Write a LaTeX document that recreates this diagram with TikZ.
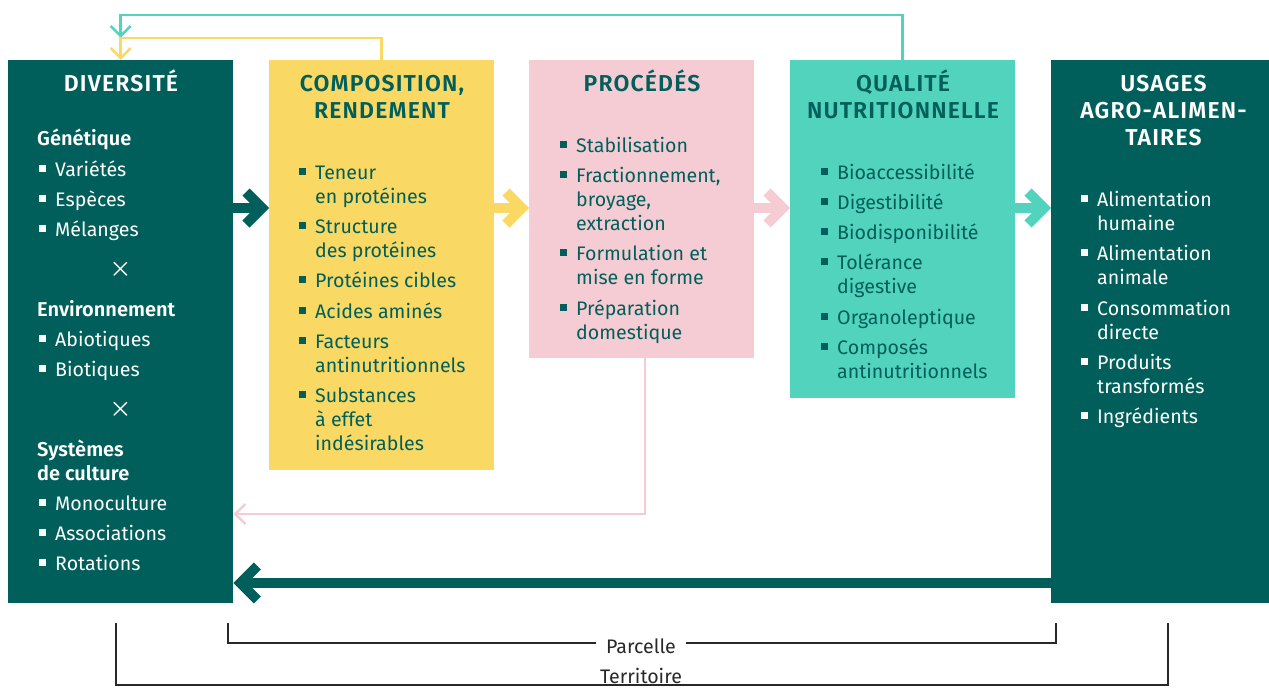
\documentclass[tikz,border=0pt]{standalone}
\usepackage{fontspec}
\setmainfont{Fira Sans}[BoldFont={Fira Sans SemiBold}]
\usetikzlibrary{calc}
\definecolor{dk}{RGB}{0,95,90}
\definecolor{yl}{RGB}{249,216,100}
\definecolor{pk}{RGB}{245,204,211}
\definecolor{tq}{RGB}{82,211,189}
\definecolor{gr}{RGB}{40,40,40}
\tikzset{
 box/.style={anchor=north west, inner sep=0, minimum width=225pt},
 tx/.style={anchor=base west, inner sep=0, font=\fontsize{19.6}{24}\selectfont},
 hd/.style={anchor=base west, inner sep=0, font=\fontsize{20}{24}\selectfont\bfseries},
 ttl/.style={anchor=base, inner sep=0, font=\fontsize{23}{27}\selectfont\bfseries\addfontfeature{LetterSpace=5}},
 times/.style={inner sep=0, font=\fontsize{28}{28}\selectfont\boldmath},
 fat/.style={line width=10pt, line join=miter, miter limit=10},
 thinarr/.style={line width=2.5pt, line join=miter, miter limit=10},
 brk/.style={draw=gr, line width=1.8pt},
 lbl/.style={anchor=base, fill=white, inner xsep=10pt, inner ysep=2pt, text=gr, font=\fontsize{19.6}{24}\selectfont},
}
\newcommand\bl[4]{%
 \fill (#2-16,#3-10.75) rectangle ++(6.5,6.5);
 \node[tx] (#1) at (#2,#3) {#4};}
\newcommand\cl[4]{\node[tx] (#1) at (#2,#3) {#4};}
\newcommand\fatarr[4]{%
 \draw[fat,#4] (#1.east |- 0,#3) -- ($(#2.west |- 0,#3)+(-7,0)$);
 \draw[fat,#4] ($(#2.west |- 0,#3)+(-23,-16)$) -- ($(#2.west |- 0,#3)+(-7,0)$) -- ($(#2.west |- 0,#3)+(-23,16)$);}
\begin{document}
\begin{tikzpicture}[x=1pt,y=-1pt]
\useasboundingbox (0,0) rectangle (1269,689);
% boxes
\node[box, fill=dk, minimum height=543pt] (dv) at (8,60) {};
\node[box, fill=yl, minimum height=410pt] (cp) at (269,60) {};
\node[box, fill=pk, minimum height=298pt] (pr) at (529,60) {};
\node[box, fill=tq, minimum height=338pt] (qn) at (790,60) {};
\node[box, fill=dk, minimum height=543pt, minimum width=218pt] (us) at (1051,60) {};
% fat arrows
\fatarr{dv}{cp}{208}{dk}
\fatarr{cp}{pr}{208}{yl}
\fatarr{pr}{qn}{208}{pk}
\fatarr{qn}{us}{208}{tq}
\draw[fat,dk] (us.west |- 0,583) -- ($(dv.east |- 0,583)+(7,0)$);
\draw[fat,dk] ($(dv.east |- 0,583)+(24,-17)$) -- ($(dv.east |- 0,583)+(7,0)$) -- ($(dv.east |- 0,583)+(24,17)$);
% thin feedback arrows
\draw[thinarr,tq] (qn.north) -- ++(0,-45) -| ($(dv.north)+(0,-25.8)$);
\draw[thinarr,tq] ($(dv.north)+(-10,-34)$) -- ($(dv.north)+(0,-24)$) -- ($(dv.north)+(10,-34)$);
\draw[thinarr,yl] (cp.north) -- ++(0,-22) -| ($(dv.north)+(0,-1.8)$);
\draw[thinarr,yl] ($(dv.north)+(-10,-12)$) -- ($(dv.north)+(0,-1.8)$) -- ($(dv.north)+(10,-12)$);
\draw[thinarr,pk] ($(pr.south)+(3.5,0)$) |- ($(dv.east |- 0,514)+(1.8,0)$);
\draw[thinarr,pk] ($(dv.east |- 0,514)+(12,-10)$) -- ($(dv.east |- 0,514)+(1.8,0)$) -- ($(dv.east |- 0,514)+(12,10)$);
% DIVERSITE
\begin{scope}[color=white]
\node[ttl] (t1) at (121,91.5) {DIVERSITÉ};
\node[hd] (h1) at (37,145) {Génétique};
\bl{a1}{55}{176}{Variétés}
\bl{a2}{55}{206}{Espèces}
\bl{a3}{55}{236}{Mélanges}
\node[times] (x1) at (120.5,269) {$\times$};
\node[hd] (h2) at (37,316) {Environnement};
\bl{a4}{55}{346}{Abiotiques}
\bl{a5}{55}{376}{Biotiques}
\node[times] (x2) at (120.5,409) {$\times$};
\node[hd] (h3) at (37,456) {Systèmes};
\node[hd] (h3b) at (37,480) {de culture};
\bl{a6}{55}{510}{Monoculture}
\bl{a7}{55}{540}{Associations}
\bl{a8}{55}{570}{Rotations}
\end{scope}
% COMPOSITION
\begin{scope}[color=dk]
\node[ttl] (t2) at (382,91.5) {COMPOSITION,};
\node[ttl] (t2b) at (382,118.5) {RENDEMENT};
\bl{b1}{315}{179}{Teneur}
\cl{b1b}{315}{203}{en protéines}
\bl{b2}{315}{233}{Structure}
\cl{b2b}{315}{257}{des protéines}
\bl{b3}{315}{287}{Protéines cibles}
\bl{b4}{315}{318}{Acides aminés}
\bl{b5}{315}{348}{Facteurs}
\cl{b5b}{315}{372}{antinutritionnels}
\bl{b6}{315}{402}{Substances}
\cl{b6b}{315}{426}{à effet}
\cl{b6c}{315}{450}{indésirables}
% PROCEDES
\node[ttl] (t3) at (642,91.5) {PROCÉDÉS};
\bl{c1}{576}{152}{Stabilisation}
\bl{c2}{576}{182}{Fractionnement,}
\cl{c2b}{576}{206}{broyage,}
\cl{c2c}{576}{230}{extraction}
\bl{c3}{576}{260}{Formulation et}
\cl{c3b}{576}{284}{mise en forme}
\bl{c4}{576}{315}{Préparation}
\cl{c4b}{576}{339}{domestique}
% QUALITE
\node[ttl] (t4) at (903,91.5) {QUALITÉ};
\node[ttl] (t4b) at (903,118.5) {NUTRITIONNELLE};
\bl{d1}{837}{179}{Bioaccessibilité}
\bl{d2}{837}{209}{Digestibilité}
\bl{d3}{837}{239}{Biodisponibilité}
\bl{d4}{837}{269}{Tolérance}
\cl{d4b}{837}{293}{digestive}
\bl{d5}{837}{324}{Organoleptique}
\bl{d6}{837}{354}{Composés}
\cl{d6b}{837}{378}{antinutritionnels}
\end{scope}
% USAGES
\begin{scope}[color=white]
\node[ttl] (t5) at (1163.5,91.5) {USAGES};
\node[ttl] (t5b) at (1163.5,118.5) {AGRO-ALIMEN-};
\node[ttl] (t5c) at (1163.5,145.5) {TAIRES};
\bl{e1}{1097}{206}{Alimentation}
\cl{e1b}{1097}{230}{humaine}
\bl{e2}{1097}{260}{Alimentation}
\cl{e2b}{1097}{284}{animale}
\bl{e3}{1097}{315}{Consommation}
\cl{e3b}{1097}{339}{directe}
\bl{e4}{1097}{369}{Produits}
\cl{e4b}{1097}{393}{transformés}
\bl{e5}{1097}{423}{Ingrédients}
\end{scope}
% scale brackets
\draw[brk] (228,623) -- (228,643) -- (1056,643) -- (1056,623);
\node[lbl] (parc) at (641,653) {Parcelle};
\draw[brk] (116,623) -- (116,685) -- (1168,685) -- (1168,623);
\node[lbl, inner ysep=0pt] (terr) at (641,683.5) {Territoire};
\end{tikzpicture}
\end{document}
